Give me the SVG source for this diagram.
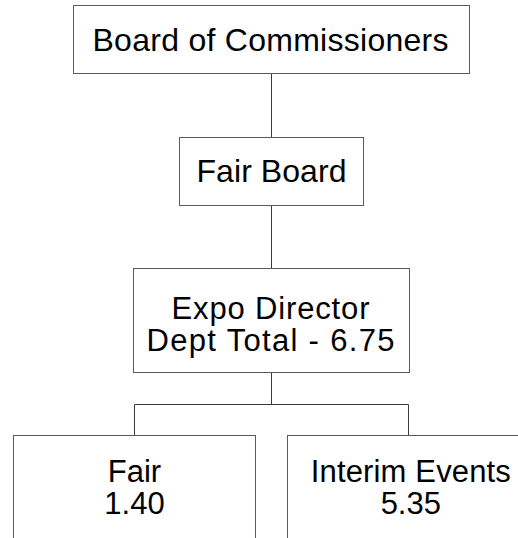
<svg xmlns="http://www.w3.org/2000/svg" width="518" height="538" viewBox="0 0 518 538">
  <style>
    .box { fill: #ffffff; stroke: #5a5a5a; stroke-width: 1; }
    .wire { fill: none; stroke: #3a3a3a; stroke-width: 1; }
    .lbl { font-family: "Liberation Sans", Arial, sans-serif; font-size: 32px; fill: #000000; text-anchor: middle; }
    .two { font-size: 31px; }
  </style>
  <rect width="518" height="538" fill="#ffffff"/>

  <!-- connectors -->
  <g id="connectors">
    <line class="wire" x1="271.5" y1="73.5" x2="271.5" y2="137.5"/>
    <line class="wire" x1="271.5" y1="205.5" x2="271.5" y2="268.5"/>
    <line class="wire" x1="271.5" y1="372.5" x2="271.5" y2="404.5"/>
    <polyline class="wire" points="134.5,435.5 134.5,404.5 408.5,404.5 408.5,435.5"/>
  </g>

  <g id="board-of-commissioners">
    <rect class="box" x="73.5" y="5.5" width="396" height="68"/>
    <text class="lbl" x="270.5" y="51" font-size="33" textLength="356">Board of Commissioners</text>
  </g>

  <g id="fair-board">
    <rect class="box" x="179.5" y="137.5" width="184" height="68"/>
    <text class="lbl" x="271.5" y="182" textLength="150">Fair Board</text>
  </g>

  <g id="expo-director">
    <rect class="box" x="133.5" y="268.5" width="276" height="104"/>
    <text class="lbl two" x="270.5" y="319" textLength="198">Expo Director</text>
    <text class="lbl two" x="270.5" y="351" textLength="248">Dept Total - 6.75</text>
  </g>

  <g id="fair">
    <rect class="box" x="13.5" y="435.5" width="242" height="120"/>
    <text class="lbl two" x="134.5" y="482">Fair</text>
    <text class="lbl two" x="134.5" y="514">1.40</text>
  </g>

  <g id="interim-events">
    <rect class="box" x="287.5" y="435.5" width="242" height="120"/>
    <text class="lbl two" x="410.8" y="482" textLength="200">Interim Events</text>
    <text class="lbl two" x="410.8" y="514">5.35</text>
  </g>
</svg>
